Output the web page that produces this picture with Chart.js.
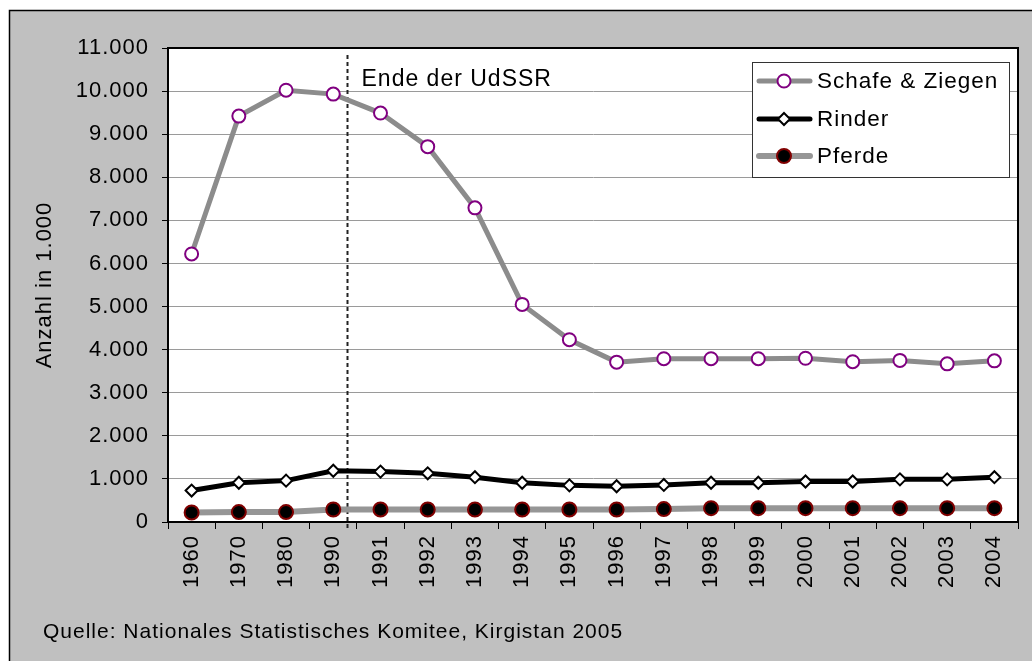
<!DOCTYPE html>
<html>
<head>
<meta charset="utf-8">
<style>
  html, body { margin: 0; padding: 0; background: #ffffff; }
  #wrap { position: relative; width: 1032px; height: 661px; }
</style>
<script src="https://cdn.jsdelivr.net/npm/chart.js@4/dist/chart.umd.min.js"></script>
</head>
<body>
<div id="wrap"><canvas id="c" width="1032" height="661"></canvas></div>
<script>
// ---- data (Anzahl in 1.000) ----
const years = ['1960','1970','1980','1990','1991','1992','1993','1994','1995','1996','1997','1998','1999','2000','2001','2002','2003','2004'];
const schafeZiegen = [6220, 9420, 10020, 9930, 9490, 8710, 7290, 5050, 4230, 3710, 3790, 3790, 3790, 3800, 3720, 3750, 3670, 3740];
const rinder = [730, 910, 960, 1190, 1170, 1130, 1040, 910, 850, 830, 860, 910, 910, 940, 940, 990, 990, 1040];
const pferde = [220, 230, 230, 290, 290, 290, 290, 290, 290, 290, 300, 320, 320, 320, 320, 320, 320, 320];
const seriesNames = ['Schafe & Ziegen', 'Rinder', 'Pferde'];
const yTicks = [0, 1000, 2000, 3000, 4000, 5000, 6000, 7000, 8000, 9000, 10000, 11000];
const yTitle = 'Anzahl in 1.000';
const markerLabel = 'Ende der UdSSR';
const markerAfterIndex = 3;      // between 1990 and 1991
const markerFraction = 0.3;
const sourceText = 'Quelle: Nationales Statistisches Komitee, Kirgistan 2005';

const FONT = '"Liberation Sans", Arial, sans-serif';
const FS = 22;

function fmt(v) { return String(v).replace(/\B(?=(\d{3})+(?!\d))/g, '.'); }

const framePlugin = {
  id: 'frame',
  beforeDraw(chart) {
    const ctx = chart.ctx;
    ctx.save();
    ctx.fillStyle = '#ffffff';
    ctx.fillRect(0, 0, chart.width, chart.height);
    ctx.fillStyle = '#c0c0c0';
    ctx.fillRect(9, 10, chart.width, chart.height);
    ctx.strokeStyle = '#000000';
    ctx.lineWidth = 1.5;
    ctx.beginPath();
    ctx.moveTo(9.5, chart.height + 5);
    ctx.lineTo(9.5, 10.5);
    ctx.lineTo(chart.width + 5, 10.5);
    ctx.stroke();
    const a = chart.chartArea;
    ctx.fillStyle = '#ffffff';
    ctx.fillRect(a.left, a.top, a.right - a.left, a.bottom - a.top);
    ctx.restore();
    ctx.letterSpacing = '1px';
  },
  beforeDatasetsDraw(chart) {
    const ctx = chart.ctx;
    const a = chart.chartArea;
    ctx.save();
    ctx.strokeStyle = '#000000';
    ctx.lineWidth = 2;
    ctx.strokeRect(a.left, a.top, a.right - a.left, a.bottom - a.top);
    // dashed marker line
    const xs = chart.scales.x;
    const x0 = xs.getPixelForValue(markerAfterIndex);
    const x1 = xs.getPixelForValue(markerAfterIndex + 1);
    const x = Math.round(x0 + (x1 - x0) * markerFraction) + 0.5;
    ctx.strokeStyle = '#222222';
    ctx.lineWidth = 2;
    ctx.setLineDash([4, 3]);
    ctx.beginPath();
    ctx.moveTo(x, a.top + 7);
    ctx.lineTo(x, a.bottom + 6);
    ctx.stroke();
    ctx.setLineDash([]);
    ctx.fillStyle = '#000000';
    ctx.font = '23px ' + FONT;
    ctx.letterSpacing = '1px';
    ctx.textBaseline = 'middle';
    ctx.textAlign = 'left';
    ctx.fillText(markerLabel, x + 14, a.top + 32);
    ctx.restore();
  },
  afterDraw(chart) {
    const ctx = chart.ctx;
    ctx.save();
    ctx.letterSpacing = '1px';
    ctx.font = '21px ' + FONT;
    ctx.fillStyle = '#000000';
    ctx.textBaseline = 'middle';
    ctx.textAlign = 'left';
    ctx.fillText(sourceText, 43, 632);
    // legend
    ctx.font = '22.5px ' + FONT;
    const L = 752, T = 62, R = 1009, B = 177;
    ctx.fillStyle = '#ffffff';
    ctx.fillRect(L, T, R - L, B - T);
    ctx.strokeStyle = '#333333';
    ctx.lineWidth = 1;
    ctx.strokeRect(L + 0.5, T + 0.5, R - L, B - T);
    const rows = [81, 119, 156];
    chart.data.datasets.forEach((ds, i) => {
      const y = rows[i];
      ctx.strokeStyle = ds.borderColor;
      ctx.lineWidth = ds.borderWidth;
      ctx.lineCap = 'round';
      ctx.beginPath();
      ctx.moveTo(759, y);
      ctx.lineTo(810, y);
      ctx.stroke();
      const cx = 784;
      ctx.fillStyle = ds.pointBackgroundColor;
      ctx.strokeStyle = ds.pointBorderColor;
      ctx.lineWidth = ds.pointBorderWidth;
      const r = ds.pointRadius;
      ctx.beginPath();
      if (ds.pointStyle === 'rectRot') {
        ctx.moveTo(cx, y - r); ctx.lineTo(cx + r, y); ctx.lineTo(cx, y + r); ctx.lineTo(cx - r, y); ctx.closePath();
      } else {
        ctx.arc(cx, y, r, 0, Math.PI * 2);
      }
      ctx.fill();
      ctx.stroke();
      ctx.fillStyle = '#000000';
      ctx.fillText(ds.label, 817, y + 1);
    });
    ctx.restore();
  }
};

new Chart(document.getElementById('c'), {
  type: 'line',
  data: {
    labels: years,
    datasets: [
      { label: seriesNames[0], data: schafeZiegen, borderColor: '#8c8c8c', borderWidth: 5,
        pointStyle: 'circle', pointRadius: 6.5, pointBackgroundColor: '#ffffff', pointBorderColor: '#800080', pointBorderWidth: 2, tension: 0 },
      { label: seriesNames[1], data: rinder, borderColor: '#000000', borderWidth: 5,
        pointStyle: 'rectRot', pointRadius: 6, pointBackgroundColor: '#ffffff', pointBorderColor: '#000000', pointBorderWidth: 2, tension: 0 },
      { label: seriesNames[2], data: pferde, borderColor: '#969696', borderWidth: 6,
        pointStyle: 'circle', pointRadius: 7, pointBackgroundColor: '#000000', pointBorderColor: '#800000', pointBorderWidth: 2, tension: 0 }
    ]
  },
  options: {
    responsive: false,
    animation: false,
    devicePixelRatio: 1,
    layout: { padding: { left: 0, top: 48, right: 14, bottom: 0 } },
    plugins: { legend: { display: false }, tooltip: { enabled: false } },
    scales: {
      x: {
        type: 'category',
        offset: true,
        afterFit(s) { s.height = 661 - 48 - 474; },
        grid: { offset: true, drawOnChartArea: false, drawTicks: true, tickLength: 7, tickColor: '#000000', color: '#000000' },
        border: { color: '#000000', width: 2 },
        ticks: { minRotation: 90, maxRotation: 90, autoSkip: false, padding: 6, color: '#000000', font: { family: FONT, size: FS } }
      },
      y: {
        min: 0, max: 11000,
        afterFit(s) { s.width = 168; },
        afterBuildTicks(s) { s.ticks = yTicks.map(v => ({ value: v })); },
        grid: { color: '#9a9a9a', lineWidth: 1, tickLength: 6, tickColor: '#000000' },
        border: { color: '#000000', width: 2 },
        ticks: { padding: 13, color: '#000000', font: { family: FONT, size: FS }, callback: v => fmt(v) },
        title: { display: true, text: yTitle, color: '#000000', font: { family: FONT, size: FS }, padding: { top: 32, bottom: 0 } }
      }
    }
  },
  plugins: [framePlugin]
});
</script>
</body>
</html>
